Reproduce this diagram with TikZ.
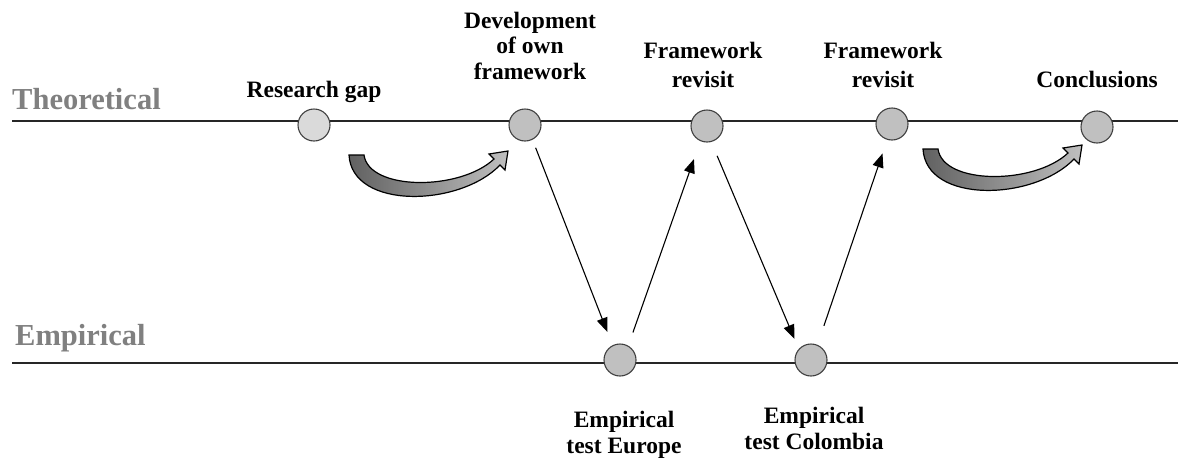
\documentclass[tikz,border=0pt]{standalone}
\usepackage{fontspec}
\setmainfont{Liberation Serif}
\usetikzlibrary{arrows.meta}
\definecolor{lbl}{HTML}{808080}
\definecolor{dotfill}{HTML}{C0C0C0}
\definecolor{dotlight}{HTML}{DADADA}
\definecolor{dotline}{HTML}{404040}
\tikzset{
  dot/.style={circle, draw=dotline, line width=1.1pt, fill=dotfill, minimum size=32pt, inner sep=0pt},
  lightdot/.style={dot, fill=dotlight},
  axis/.style={line width=2pt, draw=black!85},
  axislabel/.style={anchor=base west, inner sep=0pt, text=lbl, font=\fontsize{30.5}{34}\selectfont\bfseries},
  stage/.style={anchor=base, inner sep=0pt, align=center, font=\fontsize{23.5}{25.5}\selectfont\bfseries},
  flow/.style={line width=1.1pt, -{Triangle[length=14pt,width=11pt]}},
  bigarrow/.style={draw=black, line width=1.2pt, left color=black!62, right color=black!25}
}
\begin{document}
\begin{tikzpicture}[x=1pt,y=-1pt]
\useasboundingbox (0,0) rectangle (1190,461);
% axes
\coordinate (tl) at (12,121);
\coordinate (tr) at (1178,121);
\coordinate (el) at (12,363);
\coordinate (er) at (1178,363);
\draw[axis] (tl) -- (tr);
\draw[axis] (el) -- (er);
\node[axislabel] (theo) at (12,109) {Theoretical};
\node[axislabel] (emp) at (15,345) {Empirical};
% dots
\node[lightdot] (rg) at (314,125) {};
\node[dot] (dev) at (525,125) {};
\node[dot] (fr1) at (707,126) {};
\node[dot] (fr2) at (892,124) {};
\node[dot] (con) at (1097,127) {};
\node[dot] (eu) at (620,360) {};
\node[dot] (col) at (811,360) {};
% labels (base = last line's baseline)
\node[stage] (trg) at (314,97) {Research gap};
\node[stage] (tdev) at (530,79) {Development\\of own\\framework};
\node[stage] (tfr1) at (703,87) {Framework\\[3.5pt]revisit};
\node[stage] (tfr2) at (883,87) {Framework\\[3.5pt]revisit};
\node[stage] (tcon) at (1097,87) {Conclusions};
\node[stage] (teu) at (624,453) {Empirical\\test Europe};
\node[stage] (tcol) at (814,449) {Empirical\\test Colombia};
% straight arrows
\draw[flow, shorten <=8.6pt, shorten >=14.4pt] (dev.-63) -- (eu.117);
\draw[flow, shorten <=14pt, shorten >=19pt] (eu.60) -- (fr1.-114);
\draw[flow, shorten <=15pt, shorten >=11pt] (fr1.-75) -- (col.138);
\draw[flow, shorten <=20pt, shorten >=14.4pt] (col.67) -- (fr2.-107);
% curved block arrows
\path[bigarrow] (349,155) .. controls (352,210) and (460,207) .. (500,165)
  -- (505,170) -- (508,151) -- (489,154) -- (494,159)
  .. controls (460,191) and (369,191) .. (364,155) -- cycle;
\begin{scope}[shift={(574,-6)}]
\path[bigarrow] (349,155) .. controls (352,210) and (460,207) .. (500,165)
  -- (505,170) -- (508,151) -- (489,154) -- (494,159)
  .. controls (460,191) and (369,191) .. (364,155) -- cycle;
\end{scope}
\end{tikzpicture}
\end{document}
